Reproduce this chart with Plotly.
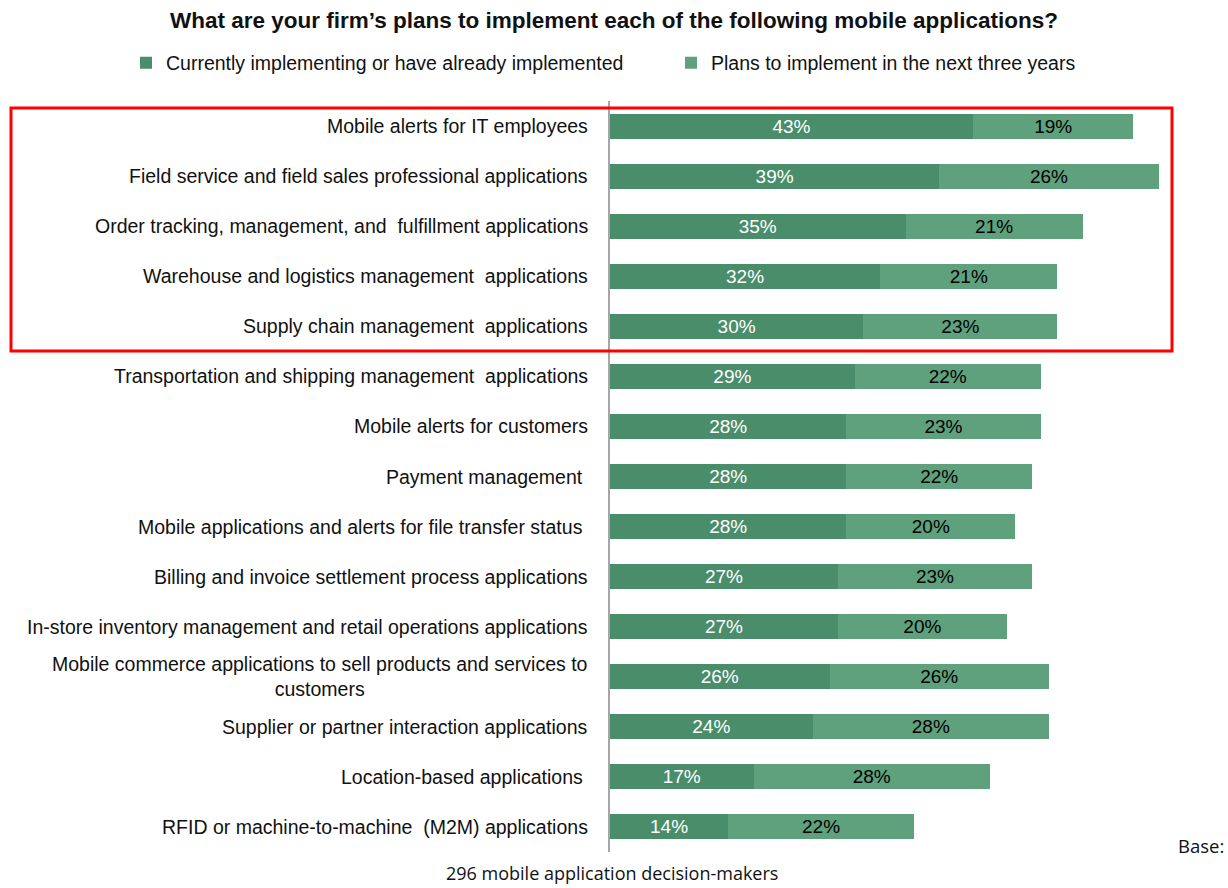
import plotly.graph_objects as go

categories = [
    "Mobile alerts for IT employees",
    "Field service and field sales professional applications",
    "Order tracking, management, and  fulfillment applications",
    "Warehouse and logistics management  applications",
    "Supply chain management  applications",
    "Transportation and shipping management  applications",
    "Mobile alerts for customers",
    "Payment management ",
    "Mobile applications and alerts for file transfer status ",
    "Billing and invoice settlement process applications",
    "In-store inventory management and retail operations applications",
    "Mobile commerce applications to sell products and services to<br>customers",
    "Supplier or partner interaction applications",
    "Location-based applications ",
    "RFID or machine-to-machine  (M2M) applications",
]
current = [43, 39, 35, 32, 30, 29, 28, 28, 28, 27, 27, 26, 24, 17, 14]
planned = [19, 26, 21, 21, 23, 22, 23, 22, 20, 23, 20, 26, 28, 28, 22]
series_names = ["Currently implementing or have already implemented",
                "Plans to implement in the next three years"]

DARK = "#4A8D6A"
LIGHT = "#5FA17D"
FONT = "Liberation Sans, Arial, sans-serif"

idx = list(range(len(categories)))

fig = go.Figure()
fig.add_trace(go.Bar(
    y=idx, x=current, orientation="h", name=series_names[0],
    marker=dict(color=DARK, line=dict(width=0)),
    text=[f"{v}%" for v in current], textposition="inside",
    insidetextanchor="middle", constraintext="none",
    textfont=dict(color="white", size=19, family=FONT),
    width=0.5,
))
fig.add_trace(go.Bar(
    y=idx, x=planned, orientation="h", name=series_names[1],
    marker=dict(color=LIGHT, line=dict(width=0)),
    text=[f"{v}%" for v in planned], textposition="inside",
    insidetextanchor="middle", constraintext="none",
    textfont=dict(color="black", size=19, family=FONT),
    width=0.5,
))

annotations = []
for i, c in enumerate(categories):
    annotations.append(dict(
        x=-0.034, xref="paper", y=i, yref="y", text=c, showarrow=False,
        xanchor="right", yanchor="middle", align="center",
        font=dict(size=19.5, color="#111111", family=FONT),
    ))
annotations.append(dict(
    x=(1226 - 610) / 591, xref="paper", y=(852 - 845) / 751, yref="paper",
    text="Base:", showarrow=False, xanchor="right", yanchor="middle",
    font=dict(size=18.5, color="#111111", family="Open Sans, sans-serif"),
))
annotations.append(dict(
    x=(612 - 610) / 591, xref="paper", y=(852 - 873) / 751, yref="paper",
    text="296 mobile application decision-makers", showarrow=False,
    xanchor="center", yanchor="middle",
    font=dict(size=18, color="#111111", family="Open Sans, sans-serif"),
))

fig.update_layout(
    width=1228, height=888,
    margin=dict(l=610, r=27, t=101, b=36),
    paper_bgcolor="white", plot_bgcolor="white",
    barmode="stack", bargap=0.5,
    title=dict(text="<b>What are your firm’s plans to implement each of the following mobile applications?</b>",
               x=0.5, xanchor="center", y=1 - 20 / 888, yanchor="middle",
               font=dict(size=22.5, color="#111111", family=FONT)),
    legend=dict(orientation="h", x=(126 - 610) / 591, xanchor="left",
                y=(852 - 63) / 751, yanchor="middle",
                font=dict(size=19.5, color="#111111", family=FONT),
                entrywidth=500, itemwidth=30, traceorder="normal"),
    xaxis=dict(range=[0, 70], showgrid=False, zeroline=False, showticklabels=False,
               showline=False, fixedrange=True),
    yaxis=dict(range=[14.5, -0.5], showgrid=False, zeroline=False, showticklabels=False,
               showline=True, linecolor="#A6A6A6", linewidth=2, ticks=""),
    annotations=annotations,
    shapes=[dict(type="rect", xref="paper", yref="paper",
                 x0=(11 - 610) / 591, x1=(1172 - 610) / 591,
                 y0=(852 - 351) / 751, y1=(852 - 108) / 751,
                 line=dict(color="#FF0000", width=3), fillcolor="rgba(0,0,0,0)")],
)

fig.write_html("out.html")
